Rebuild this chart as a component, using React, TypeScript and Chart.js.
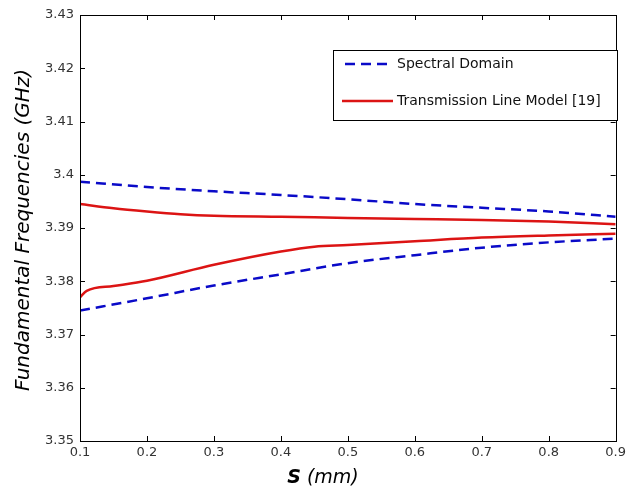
import React, { useEffect, useRef } from "react";
import { Chart, registerables } from "chart.js";
Chart.register(...registerables);

// ---- data ----
const spectralX = [0.1, 0.2, 0.3, 0.4, 0.5, 0.6, 0.7, 0.8, 0.9];
const spectralUpper = [3.3987, 3.3977, 3.3969, 3.3962, 3.3954, 3.3945, 3.3938, 3.3931, 3.3921];
const spectralLower = [3.3745, 3.3768, 3.3792, 3.3813, 3.3834, 3.3849, 3.3863, 3.3873, 3.388];
const tlmUpperX = [0.1, 0.15, 0.2, 0.25, 0.3, 0.4, 0.5, 0.6, 0.7, 0.8, 0.9];
const tlmUpper = [3.3945, 3.3937, 3.3931, 3.3926, 3.3923, 3.3921, 3.3919, 3.3917, 3.3915, 3.3912, 3.3907];
const tlmLowerX = [0.1, 0.11, 0.15, 0.2, 0.3, 0.4, 0.45, 0.5, 0.6, 0.7, 0.8, 0.9];
const tlmLower = [3.377, 3.3782, 3.3791, 3.3801, 3.3831, 3.3856, 3.3865, 3.3868, 3.3875, 3.3882, 3.3886, 3.3889];
const xTickValues = [0.1, 0.2, 0.3, 0.4, 0.5, 0.6, 0.7, 0.8, 0.9];
const yTickValues = [3.35, 3.36, 3.37, 3.38, 3.39, 3.4, 3.41, 3.42, 3.43];
const seriesNames = ["Spectral Domain", "Transmission Line Model [19]"];
const xTitleVar = "S";
const xTitleUnit = " (mm)";
const yTitle = "Fundamental Frequencies (GHz)";

const BLUE = "#0a0ac8";
const RED = "#dc1414";
const FONT = "'DejaVu Sans', sans-serif";

const pts = (xs: number[], ys: number[]) => xs.map((x, i) => ({ x, y: ys[i] }));

const framePlugin = {
  id: "frame",
  afterDatasetsDraw(chart: any) {
    const { ctx, chartArea: a, scales } = chart;
    const xs = scales.x, ys = scales.y;
    ctx.save();
    ctx.strokeStyle = "#000";
    ctx.lineWidth = 1;
    ctx.strokeRect(Math.round(a.left) + 0.5, Math.round(a.top) + 0.5, Math.round(a.right - a.left), Math.round(a.bottom - a.top));
    const tl = 5;
    ctx.beginPath();
    xTickValues.forEach((v) => {
      const px = Math.round(xs.getPixelForValue(v)) + 0.5;
      ctx.moveTo(px, a.bottom); ctx.lineTo(px, a.bottom - tl);
      ctx.moveTo(px, a.top); ctx.lineTo(px, a.top + tl);
    });
    yTickValues.forEach((v) => {
      const py = Math.round(ys.getPixelForValue(v)) + 0.5;
      ctx.moveTo(a.left, py); ctx.lineTo(a.left + tl, py);
      ctx.moveTo(a.right, py); ctx.lineTo(a.right - tl, py);
    });
    ctx.stroke();

    // legend box
    const lx = 333, ly = 50, lw = 284, lh = 70;
    ctx.fillStyle = "#fff";
    ctx.fillRect(lx, ly, lw, lh);
    ctx.strokeRect(lx + 0.5, ly + 0.5, lw, lh);
    ctx.lineWidth = 2.5;
    ctx.strokeStyle = BLUE;
    ctx.setLineDash([10, 6]);
    ctx.beginPath(); ctx.moveTo(345, 64); ctx.lineTo(393, 64); ctx.stroke();
    ctx.setLineDash([]);
    ctx.strokeStyle = RED;
    ctx.beginPath(); ctx.moveTo(342, 101); ctx.lineTo(393, 101); ctx.stroke();
    ctx.fillStyle = "#111";
    ctx.font = `14px ${FONT}`;
    ctx.textBaseline = "middle";
    ctx.textAlign = "left";
    ctx.fillText(seriesNames[0], 397, 64);
    ctx.fillText(seriesNames[1], 397, 101);

    // axis titles
    ctx.fillStyle = "#000";
    const boldF = `italic bold 19px ${FONT}`;
    const normF = `italic 19px ${FONT}`;
    ctx.font = boldF;
    const w1 = ctx.measureText(xTitleVar).width;
    ctx.font = normF;
    const w2 = ctx.measureText(xTitleUnit).width;
    const x0 = 323 - (w1 + w2) / 2;
    ctx.textAlign = "left";
    ctx.font = boldF;
    ctx.fillText(xTitleVar, x0, 478);
    ctx.font = normF;
    ctx.fillText(xTitleUnit, x0 + w1, 478);

    ctx.font = `italic 20px ${FONT}`;
    ctx.textAlign = "center";
    ctx.save();
    ctx.translate(24, (a.top + a.bottom) / 2 + 2);
    ctx.rotate(-Math.PI / 2);
    ctx.fillText(yTitle, 0, 0);
    ctx.restore();
    ctx.restore();
  },
};

export default function App() {
  const ref = useRef<HTMLCanvasElement>(null);
  useEffect(() => {
    document.body.style.margin = "0";
    const chart = new Chart(ref.current!, {
      type: "line",
      data: {
        datasets: [
          { label: seriesNames[0], data: pts(spectralX, spectralUpper), borderColor: BLUE, borderDash: [10, 6], borderWidth: 2.5 },
          { label: seriesNames[0], data: pts(spectralX, spectralLower), borderColor: BLUE, borderDash: [10, 6], borderWidth: 2.5 },
          { label: seriesNames[1], data: pts(tlmUpperX, tlmUpper), borderColor: RED, borderWidth: 2.5 },
          { label: seriesNames[1], data: pts(tlmLowerX, tlmLower), borderColor: RED, borderWidth: 2.5 },
        ].map((d) => ({ ...d, pointRadius: 0, fill: false, cubicInterpolationMode: "monotone" as const })),
      },
      options: {
        animation: false,
        responsive: false,
        maintainAspectRatio: false,
        layout: { padding: { top: 15, right: 10, left: 0, bottom: 0 } },
        plugins: { legend: { display: false }, tooltip: { enabled: false } },
        scales: {
          x: {
            type: "linear",
            min: 0.1,
            max: 0.9,
            grid: { display: false, drawTicks: false },
            border: { display: false },
            afterBuildTicks: (s: any) => { s.ticks = xTickValues.map((v) => ({ value: v })); },
            afterFit: (s: any) => { s.height = 52; },
            ticks: {
              padding: 4,
              color: "#333",
              font: { family: FONT, size: 13 },
              maxRotation: 0,
              callback: (v: any) => Number(Number(v).toFixed(2)).toString(),
            },
          },
          y: {
            type: "linear",
            min: 3.35,
            max: 3.43,
            grid: { display: false, drawTicks: false },
            border: { display: false },
            afterBuildTicks: (s: any) => { s.ticks = yTickValues.map((v) => ({ value: v })); },
            afterFit: (s: any) => { s.width = 80; },
            ticks: {
              padding: 6,
              color: "#333",
              font: { family: FONT, size: 13 },
              callback: (v: any) => Number(Number(v).toFixed(2)).toString(),
            },
          },
        },
      },
      plugins: [framePlugin],
    });
    return () => chart.destroy();
  }, []);
  return (
    <div style={{ width: 630, height: 493, background: "#fff" }}>
      <canvas ref={ref} width={630} height={493} style={{ display: "block" }} />
    </div>
  );
}
